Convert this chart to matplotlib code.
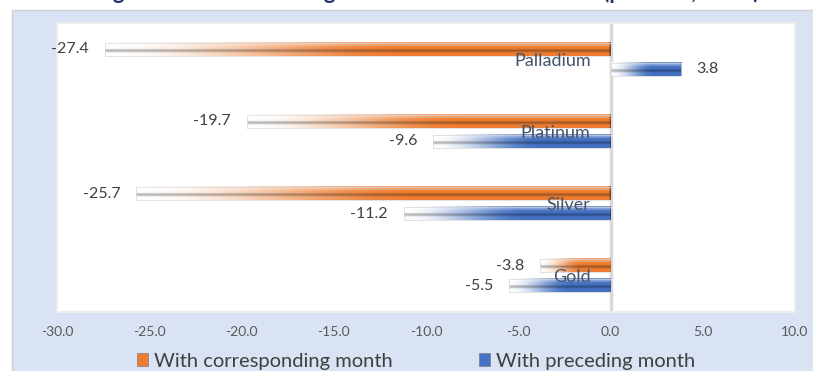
import matplotlib
matplotlib.use('Agg')
import matplotlib.pyplot as plt
import numpy as np
from matplotlib.colors import to_rgb
from matplotlib.patches import Rectangle, Patch

metals = ['Gold', 'Silver', 'Platinum', 'Palladium']
corresponding = [-3.8, -25.7, -19.7, -27.4]   # change vs corresponding month
preceding = [-5.5, -11.2, -9.6, 3.8]          # change vs preceding month
series = ['With corresponding month', 'With preceding month']
colors = ['#ed7d31', '#4472c4']
xticks = [-30, -25, -20, -15, -10, -5, 0, 5, 10]
title = 'Average Bullion Price Changes in the Domestic Market (per cent, 2023)'

plt.rcParams['font.family'] = ['Lato', 'DejaVu Sans']

W, H = 813, 371
fig = plt.figure(figsize=(W / 100, H / 100), dpi=100)

# light blue chart area under the title
fig.add_artist(Rectangle((12 / W, -0.01), 1, 1 - 10 / H + 0.01, transform=fig.transFigure,
                         facecolor='#dae3f3', edgecolor='#d0d0d0', lw=1, zorder=0))

ax = fig.add_axes([57 / W, 59 / H, 738 / W, 289 / H])
ax.set_facecolor('white')
for s in ax.spines.values():
    s.set_color('#ededed')
    s.set_linewidth(1.5)


def gradient(color, n=300, m=40):
    c = np.array(to_rgb(color))
    t = np.clip(np.linspace(0, 1, n) / 0.6, 0, 1)
    t = t * t * (3 - 2 * t)
    row = 1 - t[:, None] * (1 - c)
    v = np.linspace(0, 1, m)
    dark = 1 - 0.32 * np.exp(-((v - 0.62) / 0.1) ** 2)
    img = row[None, :, :] * dark[:, None, None]
    light = 0.3 * np.clip(1 - v / 0.35, 0, 1) + 0.25 * np.exp(-((v - 0.2) / 0.05) ** 2)
    img = img + (1 - img) * np.clip(light, 0, 1)[:, None, None]
    img[:, -1:, :] *= 0.6
    return np.clip(img, 0, 1)


ys = np.arange(len(metals))
off, bh = 0.139, 0.18
groups = [
    ax.barh(ys + off, corresponding, height=bh, facecolor='none', edgecolor='#d6d6d6', lw=0.5, zorder=3),
    ax.barh(ys - off, preceding, height=bh, facecolor='none', edgecolor='#d6d6d6', lw=0.5, zorder=3),
]
for bars, col in zip(groups, colors):
    img = gradient(col)
    for p in bars:
        x0, w = p.get_x(), p.get_width()
        y0, h = p.get_y(), p.get_height()
        ax.imshow(img, extent=(min(x0, x0 + w), max(x0, x0 + w), y0, y0 + h),
                  aspect='auto', interpolation='bilinear', zorder=2)

ax.axvline(0, color='#d9d9d9', lw=2.5, zorder=1)

# value labels
for vals, dy in ((corresponding, off), (preceding, -off)):
    for y, v in zip(ys, vals):
        ax.annotate(f'{v:.1f}', xy=(v, y + dy), xytext=(-11.5 if v < 0 else 11, 0),
                    textcoords='offset points', ha='right' if v < 0 else 'left',
                    va='center', fontsize=11.5, color='#404040', zorder=5)

# category names next to the zero line
for y, name in zip(ys, metals):
    ax.annotate(name, xy=(0, y), xytext=(-14.4, -1), textcoords='offset points',
                ha='right', va='center', fontsize=13, color='#44546a', zorder=5)

ax.set_xlim(-30, 10)
ax.set_ylim(-0.5, len(metals) - 0.5)
ax.set_xticks(xticks)
ax.set_xticklabels([f'{t:.1f}' for t in xticks])
ax.set_yticks([])
ax.tick_params(axis='x', length=0, pad=10, labelsize=10, labelcolor='#595959')

handles = [Patch(facecolor=c, edgecolor='#7f7f7f', lw=0.5) for c in colors]
fig.legend(handles, series, loc='center', bbox_to_anchor=(416 / W, 1 - 361 / H), ncol=2,
           frameon=False, fontsize=14.5, handlelength=0.55, handleheight=0.6,
           handletextpad=0.3, columnspacing=4.3, labelcolor='#404040')

# chart title, sitting mostly above the top edge
fig.text(0.5, 1 + 1 / H, title, ha='center', va='baseline', fontsize=16,
         fontweight='bold', color='#1f3864')

fig.savefig('out.png', dpi=100)
